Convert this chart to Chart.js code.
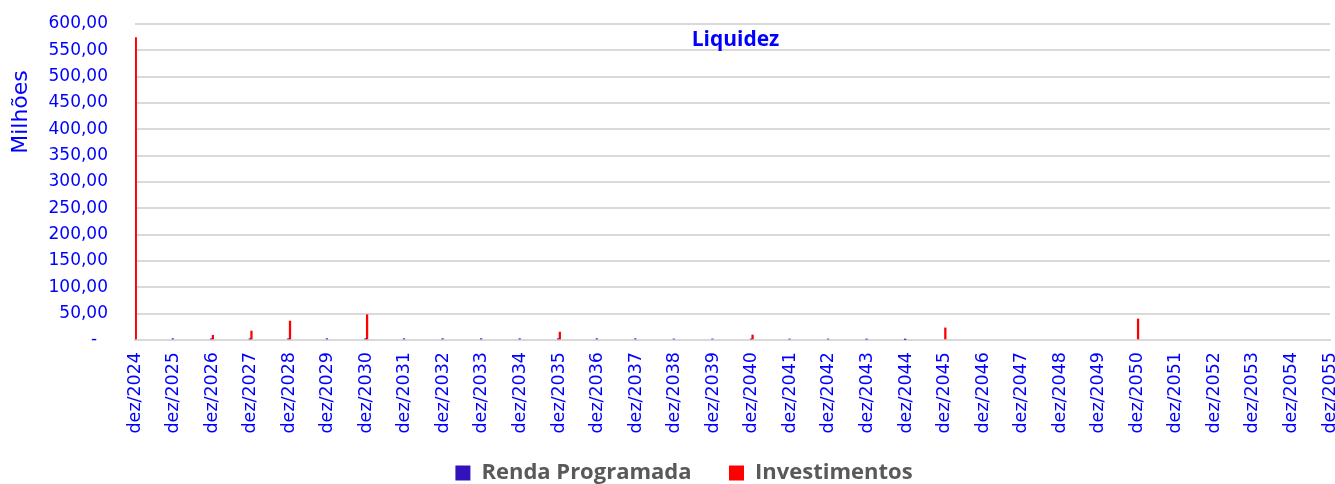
<!DOCTYPE html>
<html>
<head>
<meta charset="utf-8">
<script src="https://cdn.jsdelivr.net/npm/chart.js@4/dist/chart.umd.min.js"></script>
<style>
html,body{margin:0;padding:0;background:#fff;}
#wrap{width:1335px;height:484px;position:relative;}
</style>
</head>
<body>
<div id="wrap"><canvas id="c" width="1335" height="484"></canvas></div>
<script>
// Year-end (December) values, in millions
const years = [2024,2025,2026,2027,2028,2029,2030,2031,2032,2033,2034,2035,2036,2037,2038,2039,2040,2041,2042,2043,2044,2045,2046,2047,2048,2049,2050,2051,2052,2053,2054,2055];
const rendaProgramada = [3,2.5,2.5,2.5,2.5,2.5,2.5,2.5,2.5,2.5,2.5,2.5,2.5,2.5,2,2,2,2,2,1.5,1,0,0,0,0,0,0,0,0,0,0,0];
const investimentos   = [574,0,9,17,36,0,48,0,0,0,0,15,0,0,0,0,9.5,0,0,0,0,23,0,0,0,0,40,0,0,0,0,0];
const monthNames = ['jan','fev','mar','abr','mai','jun','jul','ago','set','out','nov','dez'];
const yTicks = [0,50,100,150,200,250,300,350,400,450,500,550,600];

// Monthly categories from dez/2024 to dez/2055
const labels = [];
const rendaData = [];
const investData = [];
labels.push('dez/' + years[0]);
rendaData.push(rendaProgramada[0] || null);
investData.push(investimentos[0] || null);
for (let i = 1; i < years.length; i++) {
  for (let m = 0; m < 12; m++) {
    labels.push(monthNames[m] + '/' + years[i]);
    if (m === 11) {
      rendaData.push(rendaProgramada[i] || null);
      investData.push(investimentos[i] || null);
    } else {
      rendaData.push(null);
      investData.push(null);
    }
  }
}

const FONT = '"DejaVu Sans", sans-serif';
const BLUE = '#0000FF';

const overlay = {
  id: 'overlay',
  afterDraw(chart) {
    const ctx = chart.ctx;
    const a = chart.chartArea;
    ctx.save();
    ctx.fillStyle = BLUE;
    ctx.font = 'bold 21px "Open Sans", sans-serif';
    ctx.textAlign = 'center';
    ctx.textBaseline = 'middle';
    ctx.fillText('Liquidez', (a.left + a.right) / 2 + 3, 40);
    ctx.translate(21, 112);
    ctx.rotate(-Math.PI / 2);
    ctx.font = '22px ' + FONT;
    ctx.fillText('Milhões', 0, 0);
    ctx.restore();
  }
};

new Chart(document.getElementById('c'), {
  type: 'bar',
  data: {
    labels: labels,
    datasets: [
      { label: 'Renda Programada', data: rendaData, backgroundColor: '#3311BB', borderWidth: 0, barPercentage: 1, categoryPercentage: 1 },
      { label: 'Investimentos', data: investData, backgroundColor: '#FF0000', borderWidth: 0, barPercentage: 1, categoryPercentage: 1 }
    ]
  },
  options: {
    responsive: false,
    animation: false,
    devicePixelRatio: 1,
    layout: { padding: { top: 0, right: 5, left: 38, bottom: -10 } },
    plugins: {
      title: { display: false },
      tooltip: { enabled: false },
      legend: {
        position: 'bottom',
        labels: {
          color: '#595959',
          font: { family: '"Open Sans", sans-serif', size: 22, weight: 'bold' },
          boxWidth: 15,
          boxHeight: 15,
          padding: 26,
          generateLabels: function(chart) {
            const items = Chart.defaults.plugins.legend.labels.generateLabels(chart);
            if (items.length) items[0].text = items[0].text + '\u00A0\u00A0';
            return items;
          }
        }
      }
    },
    scales: {
      x: {
        offset: false,
        grid: { display: false, drawTicks: false },
        border: { display: true, color: '#d9d9d9', width: 2 },
        ticks: {
          autoSkip: false,
          maxRotation: 90,
          minRotation: 90,
          padding: 12,
          color: BLUE,
          font: { family: FONT, size: 17.5 },
          callback: function(v) { const l = this.getLabelForValue(v); return l.startsWith('dez') ? l : ''; }
        },
        afterFit: function(s) { s.height = 96; s.paddingRight = 0; s.paddingLeft = 0; }
      },
      y: {
        min: 0,
        max: 600,
        afterBuildTicks: function(s) { s.ticks = yTicks.map(v => ({ value: v })); },
        grid: { color: '#d9d9d9', lineWidth: 2, drawTicks: false },
        border: { display: false },
        ticks: {
          padding: 27,
          color: BLUE,
          font: { family: FONT, size: 17 },
          callback: function(v) { return v === 0 ? '-  ' : v.toFixed(2).replace('.', ','); }
        },
        afterFit: function(s) { s.width = 97; s.paddingTop = 24; s.paddingBottom = 0; }
      }
    }
  },
  plugins: [overlay]
});
</script>
</body>
</html>
